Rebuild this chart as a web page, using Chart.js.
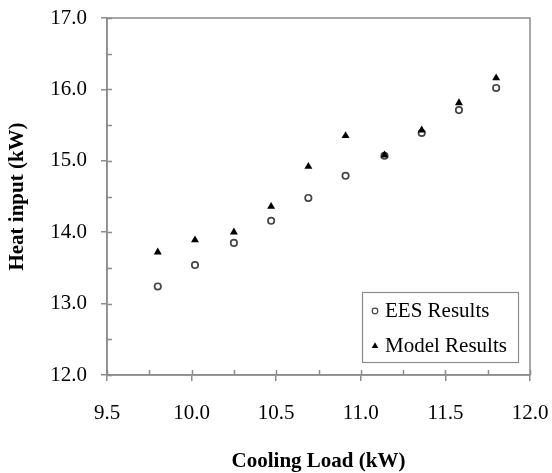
<!DOCTYPE html>
<html>
<head>
<meta charset="utf-8">
<script src="https://cdn.jsdelivr.net/npm/chart.js@4.4.1/dist/chart.umd.min.js"></script>
<style>
  html, body { margin: 0; padding: 0; background: #fff; }
  #wrap { width: 552px; height: 473px; }
</style>
</head>
<body>
<div id="wrap"><canvas id="heatChart"></canvas></div>
<script>
// Heat input vs cooling load
const coolingLoad = [9.80, 10.02, 10.25, 10.47, 10.69, 10.91, 11.14, 11.36, 11.58, 11.80];
const eesResults = [13.24, 13.54, 13.85, 14.16, 14.48, 14.79, 15.07, 15.39, 15.71, 16.02];
const modelResults = [13.72, 13.89, 14.00, 14.36, 14.92, 15.35, 15.08, 15.43, 15.81, 16.16];
const seriesNames = ['EES Results', 'Model Results'];

const AXIS = '#8c8c8c';
const SERIF = "'Liberation Serif', 'Times New Roman', serif";

const toPoints = (ys) => coolingLoad.map((x, i) => ({ x: x, y: ys[i] }));

// frame + inward minor/major ticks
const frameTicks = {
  id: 'frameTicks',
  afterDraw(chart) {
    const { ctx, chartArea: a, scales: { x, y } } = chart;
    ctx.save();
    ctx.strokeStyle = AXIS;
    ctx.lineWidth = 1.5;
    ctx.strokeRect(a.left, a.top, a.right - a.left, a.bottom - a.top);
    ctx.beginPath();
    for (let v = 9.5; v <= 12.001; v += 0.25) {
      const px = Math.round(x.getPixelForValue(v)) + 0.5;
      ctx.moveTo(px, a.bottom);
      ctx.lineTo(px, a.bottom - 5);
    }
    for (let v = 12; v <= 17.001; v += 0.5) {
      const py = Math.round(y.getPixelForValue(v)) + 0.5;
      ctx.moveTo(a.left, py);
      ctx.lineTo(a.left + 5, py);
    }
    ctx.stroke();
    ctx.restore();
  }
};

// boxed legend in the lower right corner
const boxLegend = {
  id: 'boxLegend',
  afterDraw(chart) {
    const { ctx } = chart;
    const bx = 362, by = 292, bw = 156, bh = 70;
    ctx.save();
    ctx.fillStyle = '#fff';
    ctx.fillRect(bx, by, bw, bh);
    ctx.strokeStyle = AXIS;
    ctx.lineWidth = 1.2;
    ctx.strokeRect(bx + 0.5, by + 0.5, bw, bh);
    ctx.font = '21px ' + SERIF;
    ctx.textBaseline = 'middle';
    ctx.textAlign = 'left';
    chart.data.datasets.forEach((ds, i) => {
      const cy = by + 19 + i * 35;
      ctx.fillStyle = ds.backgroundColor;
      ctx.strokeStyle = ds.borderColor;
      Chart.helpers.drawPoint(ctx, {
        pointStyle: ds.pointStyle,
        radius: ds.pointStyle === 'circle' ? 2.8 : 3.8,
        borderWidth: ds.pointStyle === 'circle' ? 1.3 : 0,
        rotation: 0
      }, bx + 13, cy);
      ctx.fillStyle = '#000';
      ctx.fillText(ds.label, bx + 23, cy);
    });
    ctx.restore();
  }
};

new Chart(document.getElementById('heatChart'), {
  type: 'scatter',
  data: {
    datasets: [
      {
        label: seriesNames[0],
        data: toPoints(eesResults),
        pointStyle: 'circle',
        pointRadius: 3.2,
        pointBorderWidth: 1.7,
        borderColor: '#444',
        backgroundColor: '#fff',
        order: 1
      },
      {
        label: seriesNames[1],
        data: toPoints(modelResults),
        pointStyle: 'triangle',
        pointRadius: 4.6,
        pointBorderWidth: 0,
        borderColor: '#000',
        backgroundColor: '#000',
        order: 0
      }
    ]
  },
  options: {
    responsive: true,
    maintainAspectRatio: false,
    animation: false,
    layout: { padding: { left: 0, top: 18, right: 22, bottom: 0 } },
    plugins: {
      legend: { display: false },
      tooltip: { enabled: false }
    },
    scales: {
      x: {
        type: 'linear',
        min: 9.5, max: 12.0,
        afterFit: (s) => { s.height = 98; s.paddingLeft = 0; s.paddingRight = 0; },
        ticks: {
          stepSize: 0.5,
          padding: 20,
          color: '#000',
          font: { family: SERIF, size: 21 },
          callback: (v) => v.toFixed(1)
        },
        grid: { drawOnChartArea: false, drawTicks: true, tickLength: 6, color: AXIS, lineWidth: 1.5 },
        border: { color: AXIS, width: 1.5 },
        title: {
          display: true,
          text: 'Cooling Load (kW)',
          color: '#000',
          font: { family: SERIF, size: 21, weight: 'bold', lineHeight: 1 },
          padding: { top: 0, bottom: 1 }
        }
      },
      y: {
        type: 'linear',
        min: 12.0, max: 17.0,
        afterFit: (s) => { s.width = 107; s.paddingTop = 0; s.paddingBottom = 0; },
        ticks: {
          stepSize: 1,
          padding: 14,
          color: '#000',
          font: { family: SERIF, size: 21 },
          callback: (v) => v.toFixed(1)
        },
        grid: { drawOnChartArea: false, drawTicks: true, tickLength: 6, color: AXIS, lineWidth: 1.5 },
        border: { color: AXIS, width: 1.5 },
        title: {
          display: true,
          text: 'Heat input (kW)',
          color: '#000',
          font: { family: SERIF, size: 21, weight: 'bold', lineHeight: 1 },
          padding: { top: 7, bottom: 0 }
        }
      }
    }
  },
  plugins: [frameTicks, boxLegend]
});
</script>
</body>
</html>
